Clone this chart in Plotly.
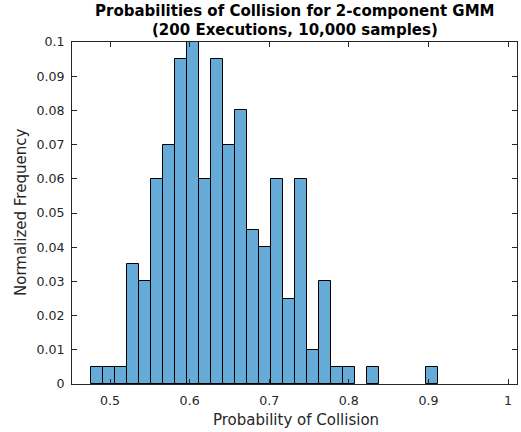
import plotly.graph_objects as go

# Histogram data
bin_start = 0.4764
bin_width = 0.01504
norm_freq = [0.005, 0.005, 0.005, 0.035, 0.03, 0.06, 0.07, 0.095, 0.1, 0.06,
             0.095, 0.07, 0.08, 0.045, 0.04, 0.06, 0.025, 0.06, 0.01, 0.03,
             0.005, 0.005, 0.0, 0.005, 0.0, 0.0, 0.0, 0.0, 0.005]
x_ticks = [0.5, 0.6, 0.7, 0.8, 0.9, 1.0]
x_tick_labels = ["0.5", "0.6", "0.7", "0.8", "0.9", "1"]
y_ticks = [0, 0.01, 0.02, 0.03, 0.04, 0.05, 0.06, 0.07, 0.08, 0.09, 0.1]
y_tick_labels = ["0", "0.01", "0.02", "0.03", "0.04", "0.05", "0.06", "0.07", "0.08", "0.09", "0.1"]
title_lines = ["Probabilities of Collision for 2-component GMM",
               "(200 Executions, 10,000 samples)"]
x_label = "Probability of Collision"
y_label = "Normalized Frequency"

centers = [bin_start + bin_width * (i + 0.5) for i in range(len(norm_freq))]
edge_widths = [1 if v > 0 else 0 for v in norm_freq]

axis_color = "#262626"
font_family = "DejaVu Sans"

W, H = 521, 432
ML, MR, MT, MB = 72, 4, 42, 48
PW, PH = W - ML - MR, H - MT - MB


def px_x(X):
    return (X - ML) / PW


def px_y(Y):
    return (H - MB - Y) / PH


fig = go.Figure(go.Bar(
    x=centers,
    y=norm_freq,
    width=bin_width,
    marker=dict(color="#66AAD7", line=dict(color="#000000", width=edge_widths)),
    hoverinfo="x+y",
))

fig.update_layout(
    width=W, height=H,
    margin=dict(l=ML, r=MR, t=MT, b=MB, autoexpand=False),
    paper_bgcolor="white", plot_bgcolor="white",
    showlegend=False,
    bargap=0,
    font=dict(family=font_family, color=axis_color, size=12.6),
    xaxis=dict(
        range=[0.4522, 1.0113],
        tickvals=x_ticks, ticktext=x_tick_labels,
        ticks="inside", ticklen=5, tickcolor=axis_color,
        showline=True, linecolor=axis_color, linewidth=1, mirror="ticks",
        showgrid=False, zeroline=False, automargin=False,
        tickfont=dict(size=12.6, color=axis_color),
        ticklabelstandoff=5,
    ),
    yaxis=dict(
        range=[0, 0.1],
        tickvals=y_ticks, ticktext=y_tick_labels,
        ticks="inside", ticklen=5, tickcolor=axis_color,
        showline=True, linecolor=axis_color, linewidth=1, mirror="ticks",
        showgrid=False, zeroline=False, automargin=False,
        tickfont=dict(size=12.6, color=axis_color),
        ticklabelstandoff=4,
    ),
)

# Two-line bold title
for txt, ypx in zip(title_lines, [11.5, 29.8]):
    fig.add_annotation(
        text="<b>" + txt + "</b>", xref="paper", yref="paper",
        x=px_x(295.3), xanchor="center", y=px_y(ypx), yanchor="middle",
        showarrow=False, font=dict(family=font_family, size=15, color="#000000"),
    )

# Axis titles
fig.add_annotation(
    text=x_label, xref="paper", yref="paper",
    x=px_x(295.5), xanchor="center", y=px_y(419.5), yanchor="middle",
    showarrow=False, font=dict(family=font_family, size=15, color=axis_color),
)
fig.add_annotation(
    text=y_label, xref="paper", yref="paper", textangle=-90,
    x=px_x(21), xanchor="center", y=px_y(213), yanchor="middle",
    showarrow=False, font=dict(family=font_family, size=15, color=axis_color),
)

fig.write_html("out.html", config={"displayModeBar": False},
               post_script="document.body.style.margin='0';")
